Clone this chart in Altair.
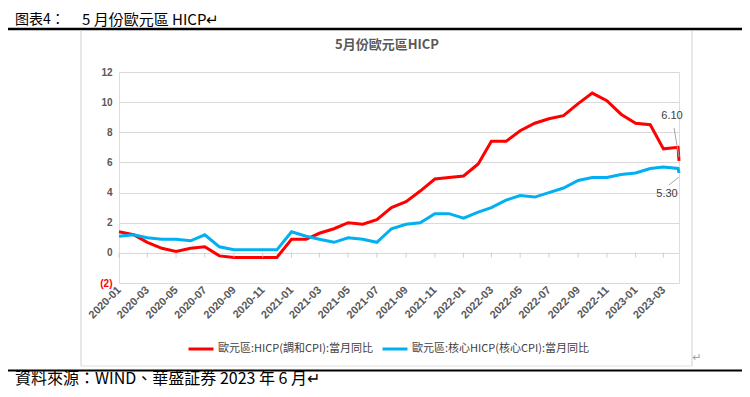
import altair as alt
import pandas as pd

# ---- data ----
dates = [
    "2020/01/01", "2020/02/01", "2020/03/01", "2020/04/01", "2020/05/01", "2020/06/01",
    "2020/07/01", "2020/08/01", "2020/09/01", "2020/10/01", "2020/11/01", "2020/12/01",
    "2021/01/01", "2021/02/01", "2021/03/01", "2021/04/01", "2021/05/01", "2021/06/01",
    "2021/07/01", "2021/08/01", "2021/09/01", "2021/10/01", "2021/11/01", "2021/12/01",
    "2022/01/01", "2022/02/01", "2022/03/01", "2022/04/01", "2022/05/01", "2022/06/01",
    "2022/07/01", "2022/08/01", "2022/09/01", "2022/10/01", "2022/11/01", "2022/12/01",
    "2023/01/01", "2023/02/01", "2023/03/01", "2023/04/01", "2023/04/03",
]
hicp = [1.4, 1.2, 0.7, 0.3, 0.1, 0.3, 0.4, -0.2, -0.3, -0.3, -0.3, -0.3,
        0.9, 0.9, 1.3, 1.6, 2.0, 1.9, 2.2, 3.0, 3.4, 4.1, 4.9, 5.0,
        5.1, 5.9, 7.4, 7.4, 8.1, 8.6, 8.9, 9.1, 9.9, 10.6, 10.1, 9.2,
        8.6, 8.5, 6.9, 7.0, 6.1]
core = [1.1, 1.2, 1.0, 0.9, 0.9, 0.8, 1.2, 0.4, 0.2, 0.2, 0.2, 0.2,
        1.4, 1.1, 0.9, 0.7, 1.0, 0.9, 0.7, 1.6, 1.9, 2.0, 2.6, 2.6,
        2.3, 2.7, 3.0, 3.5, 3.8, 3.7, 4.0, 4.3, 4.8, 5.0, 5.0, 5.2,
        5.3, 5.6, 5.7, 5.6, 5.3]
series_names = ["歐元區:HICP(調和CPI):當月同比", "歐元區:核心HICP(核心CPI):當月同比"]
series_colors = ["#FF0000", "#00B0F0"]
tick_months = [(2020, 1), (2020, 3), (2020, 5), (2020, 7), (2020, 9), (2020, 11),
               (2021, 1), (2021, 3), (2021, 5), (2021, 7), (2021, 9), (2021, 11),
               (2022, 1), (2022, 3), (2022, 5), (2022, 7), (2022, 9), (2022, 11),
               (2023, 1), (2023, 3)]
tick_dates = ["%d/%02d/01" % (y, m) for y, m in tick_months]
y_ticks = [-2, 0, 2, 4, 6, 8, 10, 12]
end_labels = ["6.10", "5.30"]

chart_title = "5月份歐元區HICP"
header_a = "图表4："
header_b = "5 月份歐元區 HICP↵"
source_text = "資料來源：WIND、華盛証券 2023 年 6 月↵"

# ---- tables ----
rows = []
for d, a, b in zip(dates, hicp, core):
    rows.append({"date": d, "series": series_names[0], "value": a})
    rows.append({"date": d, "series": series_names[1], "value": b})
df = pd.DataFrame(rows)
ticks_df = pd.DataFrame({"date": tick_dates, "value": [0] * len(tick_dates)})
end_red = pd.DataFrame({"date": [dates[-1]], "value": [hicp[-1]], "label": [end_labels[0]]})
end_blue = pd.DataFrame({"date": [dates[-1]], "value": [core[-1]], "label": [end_labels[1]]})
one = pd.DataFrame({"k": [0]})

AXIS_FONT = "Liberation Sans Narrow, Liberation Sans, Arial"
CJK = "Noto Sans CJK TC"
GREY = "#595959"

x_scale = alt.Scale(domain=[alt.DateTime(year=2020, month=1, date=1),
                            alt.DateTime(year=2023, month=4, date=3)], nice=False)
y_scale = alt.Scale(domain=[-2, 12], nice=False, zero=False)

x_axis = alt.Axis(
    values=[alt.DateTime(year=y, month=m, date=1) for y, m in tick_months],
    format="%Y-%m", labelAngle=-45, labelAlign="right", labelBaseline="middle",
    domain=False, ticks=False, grid=False, labelOverlap=False, labelFlush=False,
    labelFont=AXIS_FONT, labelFontWeight="bold", labelFontSize=11,
    labelColor=GREY, labelPadding=5, title=None,
)
y_axis = alt.Axis(
    values=y_ticks, domain=False, ticks=False, grid=True,
    gridColor="#D9D9D9", gridWidth=1, labelOverlap=False, labelFlush=False,
    labelExpr="datum.value < 0 ? '(' + abs(datum.value) + ')' : datum.label",
    labelColor={"condition": {"test": "datum.value < 0", "value": "#FF0000"}, "value": GREY},
    labelFont=AXIS_FONT, labelFontWeight="bold", labelFontSize=10, labelPadding=7,
    title=None,
)
x_enc = alt.X("date:T", scale=x_scale, axis=x_axis, title=None)
y_enc = alt.Y("value:Q", scale=y_scale, axis=y_axis, title=None)

lines = alt.Chart(df).mark_line(strokeWidth=3).encode(
    x=x_enc,
    y=y_enc,
    color=alt.Color(
        "series:N",
        scale=alt.Scale(domain=series_names, range=series_colors),
        legend=alt.Legend(
            title=None, orient="none", legendX=68, legendY=263, direction="horizontal",
            symbolType="stroke", symbolSize=625, symbolStrokeWidth=3,
            labelFont=CJK, labelFontSize=11, labelColor="#404040", labelLimit=400,
            columnPadding=3, labelOffset=3,
        ),
    ),
    order="date:T",
)

zero_ticks = alt.Chart(ticks_df).mark_tick(
    orient="vertical", size=5, yOffset=2.5, color="#BFBFBF", thickness=1
).encode(x=x_enc, y=y_enc)

lab_red = alt.Chart(end_red).mark_text(
    dx=-7, dy=-45, font=AXIS_FONT, fontSize=11, color="#404040"
).encode(x=x_enc, y=y_enc, text="label:N")
lab_blue = alt.Chart(end_blue).mark_text(
    dx=-12, dy=21, font=AXIS_FONT, fontSize=11, color="#404040"
).encode(x=x_enc, y=y_enc, text="label:N")
lead_red = alt.Chart(end_red).mark_rule(
    color="#A6A6A6", strokeWidth=1, yOffset=-4, y2Offset=-33, x2Offset=-5
).encode(x=x_enc, y=y_enc, x2="date:T", y2="value:Q")
lead_blue = alt.Chart(end_blue).mark_rule(
    color="#A6A6A6", strokeWidth=1, yOffset=4, y2Offset=12, x2Offset=-10
).encode(x=x_enc, y=y_enc, x2="date:T", y2="value:Q")

# ---- page decorations ----
title_txt = alt.Chart(one).mark_text(
    font=CJK, fontSize=13, fontWeight="bold", color=GREY, align="center", baseline="middle"
).encode(x=alt.value(268), y=alt.value(-27), text=alt.value(chart_title))
head_a = alt.Chart(one).mark_text(
    font=CJK, fontSize=14, color="#000000", align="left", baseline="middle"
).encode(x=alt.value(-104), y=alt.value(-52), text=alt.value(header_a))
head_b = alt.Chart(one).mark_text(
    font=CJK, fontSize=15, color="#000000", align="left", baseline="middle"
).encode(x=alt.value(-37), y=alt.value(-52), text=alt.value(header_b))
src_txt = alt.Chart(one).mark_text(
    font=CJK, fontSize=16, color="#000000", align="left", baseline="middle"
).encode(x=alt.value(-104), y=alt.value(307), text=alt.value(source_text))
top_line = alt.Chart(one).mark_rule(color="#000000", strokeWidth=2.5).encode(
    x=alt.value(-111), x2=alt.value(623), y=alt.value(-43))
bot_line = alt.Chart(one).mark_rule(color="#000000", strokeWidth=2).encode(
    x=alt.value(-111), x2=alt.value(623), y=alt.value(298.5))
frame_l = alt.Chart(one).mark_rule(color="#D0D0D0", strokeWidth=1).encode(
    x=alt.value(-38), y=alt.value(-41), y2=alt.value(294))
frame_r = alt.Chart(one).mark_rule(color="#D0D0D0", strokeWidth=1).encode(
    x=alt.value(573), y=alt.value(-41), y2=alt.value(294))
frame_b = alt.Chart(one).mark_rule(color="#E0E0E0", strokeWidth=1).encode(
    x=alt.value(-38), x2=alt.value(573), y=alt.value(294))
ret_mark = alt.Chart(one).mark_text(
    font="DejaVu Sans", fontSize=11, color="#A0A0A0", align="center", baseline="middle"
).encode(x=alt.value(578), y=alt.value(286), text=alt.value("↵"))

chart = alt.layer(
    frame_l, frame_r, frame_b, top_line, bot_line, head_a, head_b, src_txt, ret_mark,
    title_txt, lines, zero_ticks, lead_red, lead_blue, lab_red, lab_blue,
).properties(
    width=560, height=211,
    autosize=alt.AutoSizeParams(type="none"),
    padding={"left": 111, "top": 64, "right": 63, "bottom": 106},
).configure_view(stroke=None).configure_axis(labelOverlap=False).configure(background="#FFFFFF")

chart.save("out.html", embed_options={"renderer": "svg", "actions": False})
